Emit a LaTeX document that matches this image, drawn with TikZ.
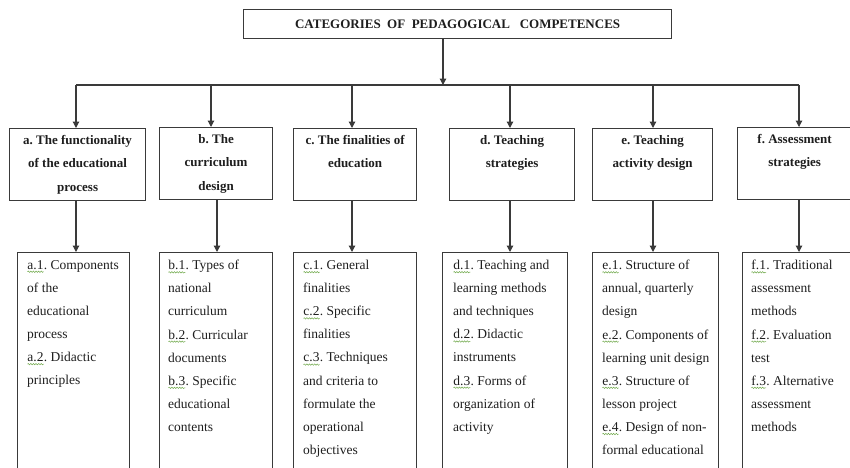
\documentclass[tikz,border=0pt]{standalone}
\usepackage{fontspec}
\setmainfont{Liberation Serif}
\usetikzlibrary{arrows.meta,decorations.pathmorphing}
\frenchspacing

\definecolor{ink}{HTML}{1E1E1E}
\definecolor{rulegray}{HTML}{3A3A3A}
\definecolor{spellgreen}{HTML}{6FA84A}

% green wavy underline under the item numbers
\newcommand\spellmark[1]{\tikz[baseline=(sm.base)]{%
  \node[inner sep=0pt, outer sep=0pt, anchor=base west] (sm) {#1};
  \draw[spellgreen, line width=0.5pt, decorate,
        decoration={snake, amplitude=0.7pt, segment length=2.6pt}]
    ([yshift=-2.6pt]sm.base west) -- ([yshift=-2.6pt]sm.base east);}}

\tikzset{
  box/.style={draw=rulegray, line width=1.2pt, inner sep=0pt, anchor=north west},
  titletext/.style={font=\bfseries\fontsize{13}{16}\selectfont, text=ink},
  headtext/.style={font=\bfseries\fontsize{13}{23.5}\selectfont, align=center, text=ink, inner sep=0pt, anchor=north},
  bodytext/.style={font=\fontsize{13.5}{23.1}\selectfont, align=left, text=ink, inner sep=0pt, anchor=north west},
  busline/.style={draw=rulegray, line width=1.2pt},
  feed/.style={draw=rulegray, line width=1.2pt, -{Triangle[length=6.5pt,width=6.5pt]}},
}

\begin{document}
\begin{tikzpicture}[x=1pt,y=-1pt]
\useasboundingbox (0,0) rectangle (850,467);
\clip (0,0) rectangle (850,467);

% title
\node[box, minimum width=428, minimum height=29, titletext] (title) at (243,9)
  {CATEGORIES\ \ OF\ \ PEDAGOGICAL\ \ \ COMPETENCES};

% category boxes
\node[box, minimum width=136, minimum height=72] (ta) at (9,128) {};
\node[box, minimum width=113, minimum height=72] (tb) at (159,127) {};
\node[box, minimum width=123, minimum height=72] (tc) at (293,128) {};
\node[box, minimum width=125, minimum height=72] (td) at (449,128) {};
\node[box, minimum width=120, minimum height=72] (te) at (592,128) {};
\node[box, minimum width=114, minimum height=72] (tf) at (737,127) {};

\node[headtext] (ta-t) at ([shift={(0,7)}]ta.north) {a. The functionality\\of the educational\\process};
\node[headtext] (tb-t) at ([shift={(0,7)}]tb.north) {b. The\\curriculum\\design};
\node[headtext] (tc-t) at ([shift={(0,7)}]tc.north) {c. The finalities of\\education};
\node[headtext] (td-t) at ([shift={(0,7)}]td.north) {d. Teaching\\strategies};
\node[headtext] (te-t) at ([shift={(0,7)}]te.north) {e. Teaching\\activity design};
\node[headtext] (tf-t) at ([shift={(0,7)}]tf.north) {f. Assessment\\strategies};

% content boxes (running past the lower edge)
\node[box, minimum width=112, minimum height=260] (la) at (17,252) {};
\node[box, minimum width=113, minimum height=260] (lb) at (159,252) {};
\node[box, minimum width=123, minimum height=260] (lc) at (293,252) {};
\node[box, minimum width=125, minimum height=260] (ld) at (442,252) {};
\node[box, minimum width=126, minimum height=260] (le) at (592,252) {};
\node[box, minimum width=114, minimum height=260] (lf) at (742,252) {};

\node[bodytext] (la-t) at ([shift={(10,8)}]la.north west)
  {\spellmark{a.1}. Components\\of the\\educational\\process\\\spellmark{a.2}. Didactic\\principles};
\node[bodytext] (lb-t) at ([shift={(9,8)}]lb.north west)
  {\spellmark{b.1}. Types of\\national\\curriculum\\\spellmark{b.2}. Curricular\\documents\\\spellmark{b.3}. Specific\\educational\\contents};
\node[bodytext] (lc-t) at ([shift={(10,8)}]lc.north west)
  {\spellmark{c.1}. General\\finalities\\\spellmark{c.2}. Specific\\finalities\\\spellmark{c.3}. Techniques\\and criteria to\\formulate the\\operational\\objectives};
\node[bodytext] (ld-t) at ([shift={(11,8)}]ld.north west)
  {\spellmark{d.1}. Teaching and\\learning methods\\and techniques\\\spellmark{d.2}. Didactic\\instruments\\\spellmark{d.3}. Forms of\\organization of\\activity};
\node[bodytext] (le-t) at ([shift={(10,8)}]le.north west)
  {\spellmark{e.1}. Structure of\\annual, quarterly\\design\\\spellmark{e.2}. Components of\\learning unit design\\\spellmark{e.3}. Structure of\\lesson project\\\spellmark{e.4}. Design of non-\\formal educational};
\node[bodytext] (lf-t) at ([shift={(9,8)}]lf.north west)
  {\spellmark{f.1}. Traditional\\assessment\\methods\\\spellmark{f.2}. Evaluation\\test\\\spellmark{f.3}. Alternative\\assessment\\methods};

% distribution bus
\coordinate (hub) at (443,85);
\coordinate (da) at (76,85);
\coordinate (db) at (211,85);
\coordinate (dc) at (352,85);
\coordinate (dd) at (510,85);
\coordinate (de) at (653,85);
\coordinate (df) at (799,85);
\draw[busline] (da) -- (df);
\draw[feed] (title.south -| hub) -- (hub);
\foreach \k in {a,b,c,d,e,f}
  \draw[feed] (d\k) -- (t\k.north -| d\k);

% category to content links
\coordinate (ka) at (76,0);
\coordinate (kb) at (217,0);
\coordinate (kc) at (352,0);
\coordinate (kd) at (510,0);
\coordinate (ke) at (653,0);
\coordinate (kf) at (799,0);
\foreach \k in {a,b,c,d,e,f}
  \draw[feed] (t\k.south -| k\k) -- (l\k.north -| k\k);
\end{tikzpicture}
\end{document}
